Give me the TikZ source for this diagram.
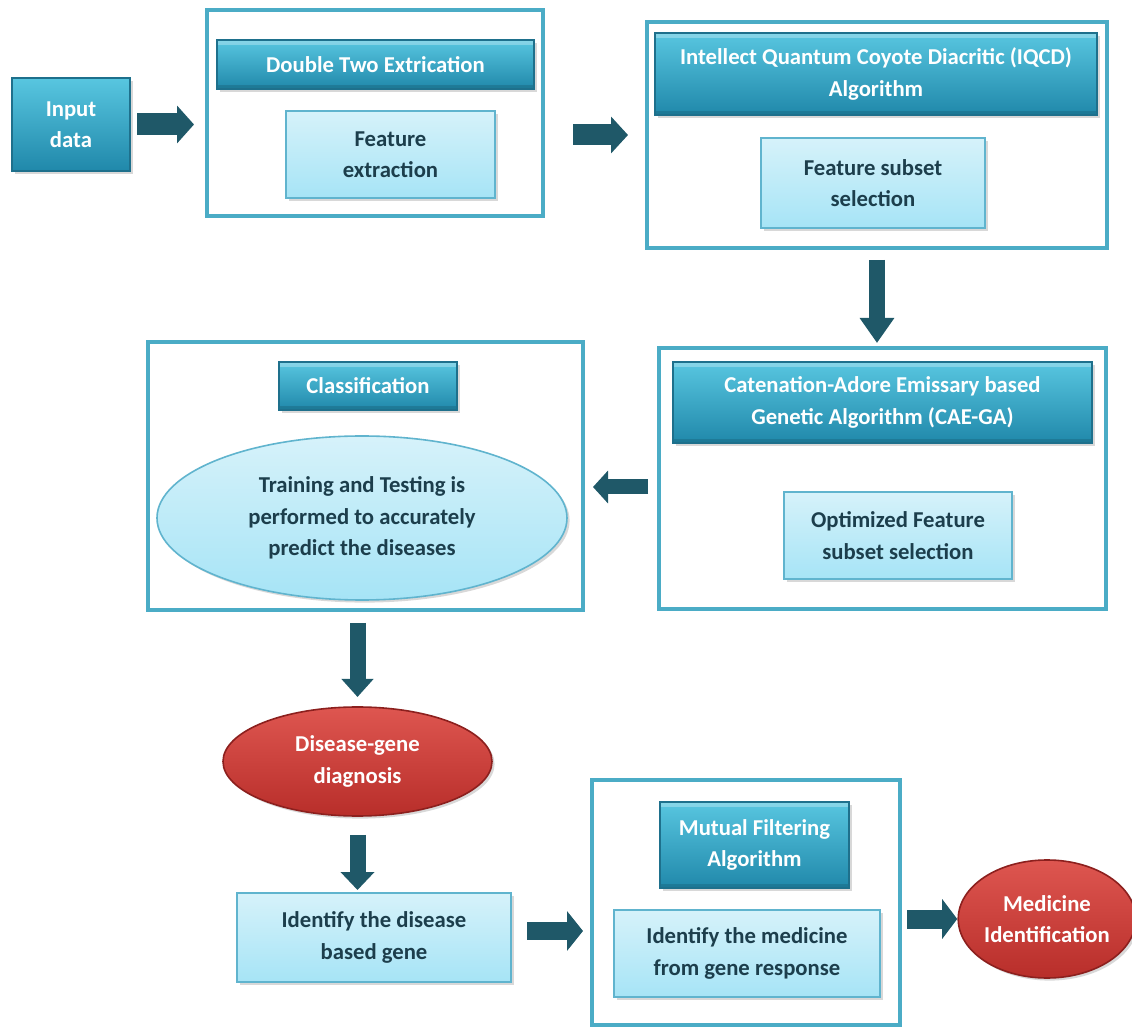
\documentclass[tikz,border=0pt]{standalone}
\usepackage{fontspec}
\setmainfont{Carlito}
\usetikzlibrary{shapes.geometric,arrows.meta,shadows}

\definecolor{framec}{RGB}{75,172,198}
\definecolor{hdrtop}{RGB}{88,198,224}
\definecolor{hdrbot}{RGB}{32,136,170}
\definecolor{hdrline}{RGB}{30,112,140}
\definecolor{ltop}{RGB}{214,242,250}
\definecolor{lbot}{RGB}{166,228,246}
\definecolor{lline}{RGB}{96,180,206}
\definecolor{inktext}{RGB}{28,62,76}
\definecolor{redtop}{RGB}{222,86,80}
\definecolor{redbot}{RGB}{184,46,42}
\definecolor{redline}{RGB}{140,32,30}
\definecolor{arrowc}{RGB}{31,88,104}

\tikzset{
  wh/.style 2 args={minimum width=#1*0.5pt, minimum height=#2*0.5pt},
  txt/.style={font=\bfseries\fontsize{11.35}{15.75}\selectfont, align=center,
              inner sep=0pt, outer sep=0pt},
  softshadow/.style={drop shadow={opacity=.3, shadow xshift=1.3pt, shadow yshift=-1.3pt}},
  frame/.style={rectangle, draw=framec, line width=2pt, inner sep=0pt, outer sep=0pt},
  % bevelled title bar: lighter rim along the top, darker along the bottom
  hdr/.style={txt, rectangle, text=white, draw=hdrline, line width=0.6pt,
              top color=hdrtop, bottom color=hdrbot, softshadow,
              path picture={
                \fill[white, opacity=.28]
                  (path picture bounding box.north west) rectangle
                  ([yshift=-2.5pt]path picture bounding box.north east);
                \fill[black, opacity=.12]
                  (path picture bounding box.south west) rectangle
                  ([yshift=2pt]path picture bounding box.south east);
              }},
  plainhdr/.style={txt, rectangle, text=white, draw=hdrline, line width=0.6pt,
              top color=hdrtop, bottom color=hdrbot, softshadow},
  lbox/.style={txt, rectangle, text=inktext, draw=lline, line width=0.6pt,
               top color=ltop, bottom color=lbot, softshadow},
  lell/.style={txt, ellipse, text=inktext, draw=lline, line width=0.8pt,
               top color=ltop, bottom color=lbot, softshadow},
  rell/.style={txt, ellipse, text=white, draw=redline, line width=0.8pt,
               top color=redtop, bottom color=redbot, softshadow},
  blockarrow/.style n args={3}{draw=arrowc, line width=#1,
               -{Triangle[width=#2, length=#3]}},
}

\begin{document}
\begin{tikzpicture}[x=0.5pt, y=-0.5pt]
  \useasboundingbox[fill=white] (0,0) rectangle (1132,1027);

  % top row
  \node[plainhdr, wh={118}{93}] (in) at (71,124.5) {Input\\data};

  \node[frame, wh={336}{206}] (f1) at (375,113) {};
  \node[hdr, wh={317}{49}] (h1) at (375.5,64.5) {Double Two Extrication};
  \node[lbox, wh={209}{87}] (b1) at (390.5,154.5) {Feature\\extraction};

  \node[frame, wh={460}{226}] (f2) at (877,135) {};
  \node[hdr, wh={442}{82}] (h2) at (876,74) {Intellect Quantum Coyote Diacritic (IQCD)\\Algorithm};
  \node[lbox, wh={224}{90}] (b2) at (873,183) {Feature subset\\selection};

  % middle row
  \node[frame, wh={447}{261}] (f3) at (882.5,478.5) {};
  \node[hdr, wh={419}{81}] (h3) at (882.5,402.5) {Catenation-Adore Emissary based\\Genetic Algorithm (CAE-GA)};
  \node[lbox, wh={228}{87}] (b3) at (898,535.5) {Optimized Feature\\subset selection};

  \node[frame, wh={435}{268}] (f4) at (365.5,476) {};
  \node[hdr, wh={178}{48}] (h4) at (368,386) {Classification};
  \node[lell, wh={410}{164}] (e4) at (362,518) {Training and Testing is\\performed to accurately\\predict the diseases};

  % lower part
  \node[rell, wh={269}{109}] (dg) at (357.5,761.5) {Disease-gene\\diagnosis};
  \node[lbox, wh={274}{89}] (idb) at (374,937.5) {Identify the disease\\based gene};

  \node[frame, wh={308}{245}] (f5) at (746,902.5) {};
  \node[hdr, wh={189}{86}] (h5) at (754.5,845) {Mutual Filtering\\Algorithm};
  \node[lbox, wh={266}{87}] (mb) at (747,953.5) {Identify the medicine\\from gene response};

  \node[rell, wh={168}{118}] (med) at (1047,919) {Medicine\\Identification};

  % connectors
  \draw[blockarrow={11pt}{18.5pt}{8.5pt}, shorten <=3.5pt, shorten >=6.5pt]
    (in.east) -- (in.east -| f1.west);
  \draw[blockarrow={10.5pt}{18pt}{8.5pt}, shorten <=15pt, shorten >=9.5pt]
    (f1.east |- f2.west) -- (f2.west);
  \draw[blockarrow={8pt}{16.5pt}{12.5pt}, shorten <=6pt, shorten >=2.5pt]
    (f2.south) -- (f2.south |- f3.north);
  \coordinate (a4) at ([yshift=-4.25pt]f3.west);
  \draw[blockarrow={7.5pt}{16pt}{7.5pt}, shorten <=5.5pt, shorten >=5pt]
    (a4) -- (a4 -| f4.east);
  \draw[blockarrow={8pt}{15.5pt}{9pt}, shorten <=6.5pt, shorten >=5pt]
    (f4.south -| dg.north) -- (dg.north);
  \draw[blockarrow={8pt}{16.5pt}{9pt}, shorten <=9.5pt, shorten >=1.5pt]
    (dg.south) -- (dg.south |- idb.north);
  \coordinate (a7) at ([yshift=3.25pt]idb.east);
  \draw[blockarrow={9pt}{19.5pt}{8pt}, shorten <=8pt, shorten >=4.5pt]
    (a7) -- (a7 -| f5.west);
  \draw[blockarrow={9.5pt}{19.5pt}{7.5pt}, shorten <=3.5pt, shorten >=0.5pt]
    (f5.east |- med.west) -- (med.west);
\end{tikzpicture}
\end{document}
